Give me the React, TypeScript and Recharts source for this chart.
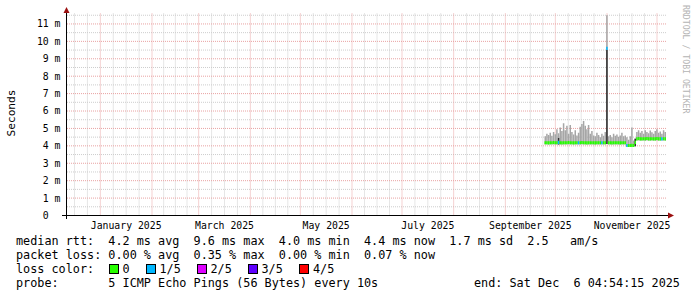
import { ComposedChart, Bar, XAxis, YAxis, CartesianGrid, Cell } from "recharts";

// day index, counted from Dec 12 2024 (left edge of the 360 day window)
const days = [
  287, 288, 289, 290, 291, 292, 293, 294, 295, 296, 297, 298, 299, 300, 301, 302, 303, 304, 305, 306,
  307, 308, 309, 310, 311, 312, 313, 314, 315, 316, 317, 318, 319, 320, 321, 322, 323, 324, 325, 326,
  327, 328, 329, 330, 331, 332, 333, 334, 335, 336, 337, 338, 339, 340, 341, 342, 343, 344, 345, 346,
  347, 348, 349, 350, 351, 352, 353, 354, 355, 356, 357, 358, 359,
];

// smoke (ms)
const smokeLo = [
  4.08, 4.08, 4.08, 4.08, 4.08, 4.08, 4.08, 4.08, 4.08, 4.08, 4.08, 4.08, 4.08, 4.08, 4.08, 4.08, 4.08, 4.08, 4.08, 4.08,
  4.08, 4.08, 4.08, 4.08, 4.08, 4.08, 4.08, 4.08, 4.08, 4.08, 4.08, 4.08, 4.08, 4.08, 4.08, 4.08, 4.08, 4.1, 4.08, 4.08,
  4.08, 4.08, 4.08, 4.08, 4.08, 4.08, 4.08, 4.08, 4.08, 3.95, 3.95, 3.95, 3.95, 3.95, 3.98, 4.3, 4.3, 4.3, 4.3, 4.3,
  4.3, 4.3, 4.3, 4.3, 4.3, 4.3, 4.3, 4.3, 4.3, 4.3, 4.3, 4.3, 4.3,
];
const smokeHi = [
  4.55, 4.7, 4.62, 4.75, 4.58, 4.8, 4.66, 4.95, 4.72, 5.05, 4.85, 5.3, 4.9, 5.15, 4.7, 5.2, 4.8, 4.65, 4.9, 4.6,
  4.75, 5.1, 5.25, 5.43, 5.15, 4.95, 5.2, 4.7, 4.85, 4.6, 4.55, 4.75, 4.62, 4.5, 4.7, 4.58, 4.8, 11.5, 4.55, 4.62,
  4.5, 4.7, 4.58, 4.65, 4.52, 4.6, 4.75, 4.55, 4.6, 4.5, 4.35, 4.55, 5.05, 4.3, 4.45, 4.8, 4.9, 4.75, 4.85, 4.7,
  4.9, 4.8, 4.72, 4.88, 4.78, 4.7, 4.85, 4.95, 4.75, 4.82, 4.7, 4.9, 4.8,
];
// dense part of the smoke (darker), null where there is none
const coreHi = [
  null, null, null, null, null, null, null, null, 4.45, null, null, null, null, null, null, null, null, null, null, null,
  null, null, null, null, null, null, null, null, null, null, null, null, null, null, null, null, null, 9.5, null, null,
  null, null, null, null, null, null, null, null, null, null, null, null, null, null, 4.4, null, null, null, null, null,
  null, null, null, null, null, null, null, null, null, null, null, null, null,
];

// median rtt (ms) and lost pings out of 5
const median = [
  4.18, 4.18, 4.17, 4.18, 4.18, 4.19, 4.18, 4.18, 4.2, 4.18, 4.17, 4.18, 4.18, 4.18, 4.19, 4.18, 4.18, 4.17, 4.18, 4.18,
  4.18, 4.18, 4.19, 4.18, 4.18, 4.17, 4.18, 4.18, 4.18, 4.18, 4.17, 4.18, 4.18, 4.18, 4.18, 4.18, 4.18, 9.6, 4.18, 4.18,
  4.17, 4.18, 4.18, 4.18, 4.18, 4.17, 4.18, 4.18, 4.18, 4.02, 4.02, 4.02, 4.03, 4.02, 4.2, 4.4, 4.42, 4.4, 4.4, 4.41,
  4.4, 4.42, 4.4, 4.4, 4.41, 4.4, 4.4, 4.42, 4.4, 4.4, 4.4, 4.41, 4.4,
];
const loss = [
  0, 0, 0, 0, 0, 0, 0, 0, 1, 0, 0, 0, 0, 0, 0, 0, 0, 0, 0, 0,
  1, 0, 0, 0, 0, 0, 0, 0, 0, 0, 0, 0, 0, 0, 1, 0, 0, 1, 0, 0,
  0, 0, 0, 0, 0, 0, 0, 0, 0, 1, 0, 0, 0, 0, 0, 0, 0, 0, 0, 0,
  0, 0, 0, 0, 0, 0, 0, 0, 0, 0, 1, 0, 0,
];

const monthStarts = [-11, 20, 51, 79, 110, 140, 171, 201, 232, 263, 293, 324, 354, 385];
const labelDays = [35.5, 94.5, 155.5, 216.5, 278, 339];
const labelNames = ["January 2025", "March 2025", "May 2025", "July 2025", "September 2025", "November 2025"];
const yTicks = [0, 1, 2, 3, 4, 5, 6, 7, 8, 9, 10, 11];

const lossColors = ["#26ff00", "#00b8ff", "#dd00ff", "#5e00ff", "#ff0000"];
const lossLabels = ["0", "1/5", "2/5", "3/5", "4/5"];

const legendLines = [
  "median rtt:  4.2 ms avg  9.6 ms max  4.0 ms min  4.4 ms now  1.7 ms sd  2.5   am/s",
  "packet loss: 0.00 % avg  0.35 % max  0.00 % min  0.07 % now",
  "loss color:",
  "probe:       5 ICMP Echo Pings (56 Bytes) every 10s",
];

const data = days.map((d, i) => ({
  day: d,
  smoke: [smokeLo[i], smokeHi[i]],
  core: coreHi[i] == null ? null : [smokeLo[i], coreHi[i]],
  med: [median[i] - 0.09, median[i] + 0.09],
  loss: loss[i],
}));

const majorX = monthStarts.filter((d) => d > 0 && d < 360);
const minorX: number[] = [];
for (let m = 0; m < monthStarts.length - 1; m++) {
  const len = monthStarts[m + 1] - monthStarts[m];
  for (let q = 1; q < 4; q++) {
    const v = monthStarts[m] + (len * q) / 4;
    if (v > 0 && v < 360) minorX.push(v);
  }
}
const majorY = yTicks.filter((v) => v > 0);
const minorY = yTicks.map((v) => v + 0.5);

const mono = "'DejaVu Sans Mono', monospace";

const YTick = (props: any) => {
  const { x, y, payload } = props;
  const v = payload.value;
  return (
    <text x={v === 0 ? x - 11.8 : x} y={y} dy="0.35em" textAnchor="end" fontFamily={mono} fontSize={9.8} fill="#000">
      {v === 0 ? "0" : `${v} m`}
    </text>
  );
};

const XTick = (props: any) => {
  const { x, y, payload } = props;
  const idx = labelDays.indexOf(payload.value);
  return (
    <text x={x} y={y + 13.5} textAnchor="middle" fontFamily={mono} fontSize={9.8} fill="#000">
      {labelNames[idx]}
    </text>
  );
};

export default function App() {
  return (
    <div style={{ position: "relative", width: 697, height: 297, background: "#fff", overflow: "hidden" }}>
      <style>{`body{margin:0}`}</style>
      <ComposedChart
        width={697}
        height={297}
        data={data}
        margin={{ top: 13.5, right: 30, bottom: 61.5, left: 0 }}
        barGap={0}
        barCategoryGap={0}
      >
        <CartesianGrid stroke="#cdcdcd" strokeDasharray="1 1" horizontalValues={minorY} verticalValues={minorX} />
        <CartesianGrid stroke="#e9a3a3" strokeDasharray="1 1" horizontalValues={majorY} verticalValues={majorX} />
        <XAxis
          dataKey="day"
          type="number"
          domain={[0, 360]}
          ticks={labelDays}
          interval={0}
          height={20}
          axisLine={false}
          tickLine={false}
          tickSize={0}
          tickMargin={0}
          tick={<XTick />}
          allowDataOverflow
        />
        <XAxis xAxisId="core" dataKey="day" type="number" domain={[0, 360]} hide allowDataOverflow />
        <XAxis xAxisId="med" dataKey="day" type="number" domain={[0, 360]} hide allowDataOverflow />
        <YAxis
          type="number"
          domain={[0, 11.6]}
          ticks={yTicks}
          interval={0}
          width={67}
          axisLine={false}
          tickLine={false}
          tickSize={0}
          tickMargin={6.5}
          tick={<YTick />}
          allowDataOverflow
        />
        <Bar dataKey="smoke" fill="#a6a6a6" barSize={2} isAnimationActive={false} />
        <Bar xAxisId="core" dataKey="core" fill="#303030" barSize={2} isAnimationActive={false} />
        <Bar xAxisId="med" dataKey="med" barSize={2} isAnimationActive={false}>
          {data.map((r, i) => (
            <Cell key={i} fill={lossColors[r.loss]} />
          ))}
        </Bar>
      </ComposedChart>

      <svg width={697} height={297} style={{ position: "absolute", left: 0, top: 0, pointerEvents: "none" }}>
        <line x1={62} y1={215.5} x2={670} y2={215.5} stroke="#000" strokeWidth={1} />
        <line x1={66.5} y1={219} x2={66.5} y2={12} stroke="#000" strokeWidth={1} />
        <polygon points="668,212.5 674,215.5 668,218.5" fill="#9b1010" />
        <polygon points="63.5,13 66.5,7 69.5,13" fill="#9b1010" />
        <text
          transform="translate(14.5,113) rotate(-90)"
          textAnchor="middle"
          fontFamily={mono}
          fontSize={11.2}
          fill="#000"
        >
          Seconds
        </text>
        <text
          transform="translate(683,5) rotate(90)"
          textAnchor="start"
          fontFamily={mono}
          fontSize={8.2}
          fill="#b4b4b4"
        >
          RRDTOOL / TOBI OETIKER
        </text>
      </svg>

      {legendLines.map((t, i) => (
        <div
          key={i}
          style={{
            position: "absolute",
            left: 16,
            top: 234 + i * 14,
            fontFamily: mono,
            fontSize: 11.8,
            lineHeight: "14px",
            whiteSpace: "pre",
            color: "#000",
          }}
        >
          {t}
        </div>
      ))}
      <div
        style={{
          position: "absolute",
          left: 474,
          top: 234 + 3 * 14,
          fontFamily: mono,
          fontSize: 11.8,
          lineHeight: "14px",
          whiteSpace: "pre",
          color: "#000",
        }}
      >
        {"end: Sat Dec  6 04:54:15 2025"}
      </div>
      {lossLabels.map((l, i) => {
        const bx = [108.5, 145.5, 196.5, 247.5, 299][i];
        return (
          <div key={l}>
            <div
              style={{
                position: "absolute",
                left: bx,
                top: 264,
                width: 8,
                height: 8,
                background: lossColors[i],
                border: "1px solid #000",
              }}
            />
            <div
              style={{
                position: "absolute",
                left: bx + 14,
                top: 262,
                fontFamily: mono,
                fontSize: 11.8,
                lineHeight: "14px",
                whiteSpace: "pre",
                color: "#000",
              }}
            >
              {l}
            </div>
          </div>
        );
      })}
    </div>
  );
}
